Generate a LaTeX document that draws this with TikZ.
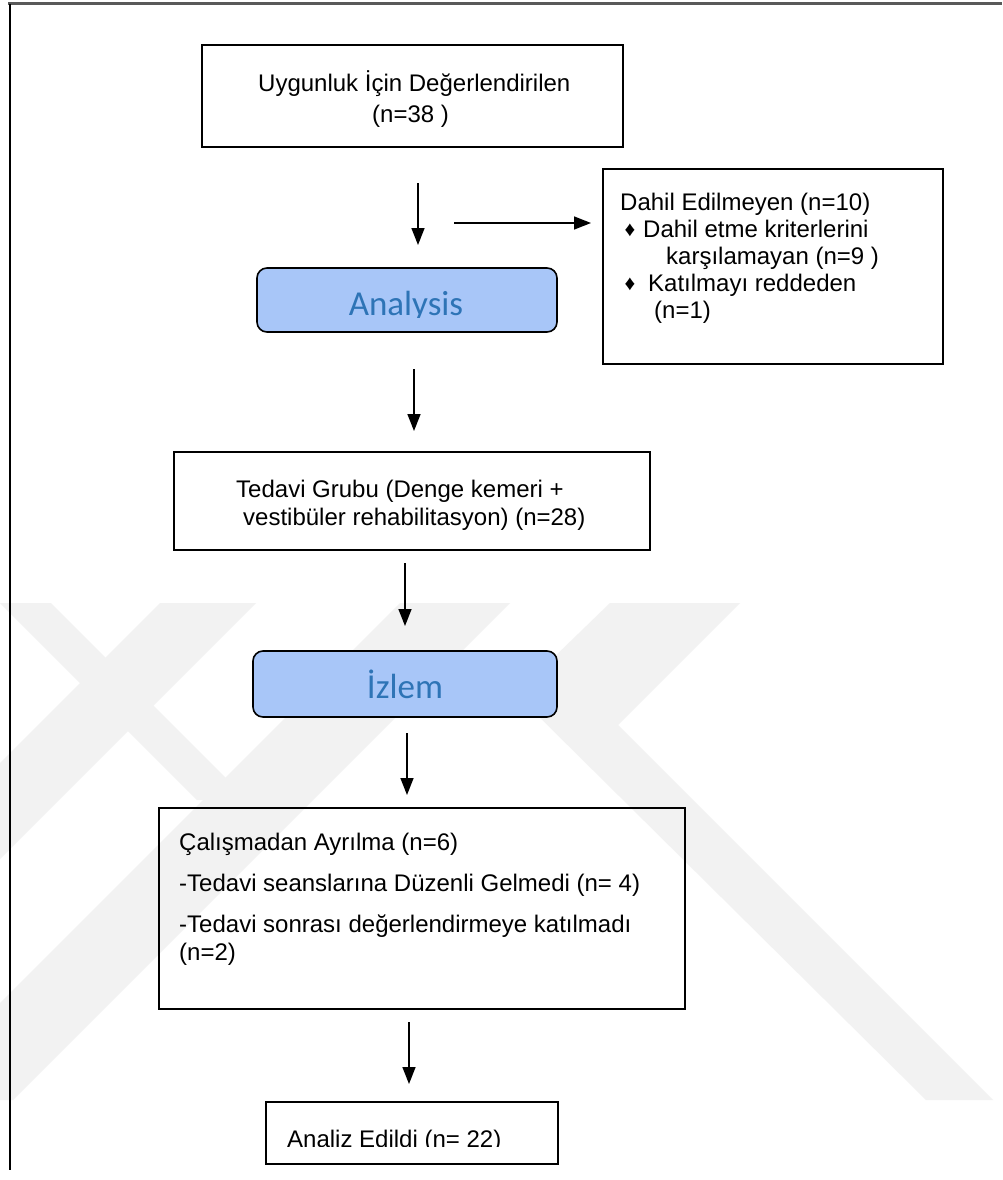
\documentclass[tikz,border=0pt]{standalone}
\usepackage{fontspec}
\setmainfont{Liberation Sans}
\newfontfamily\calib{Carlito}
\usetikzlibrary{arrows.meta}
\definecolor{boxblue}{RGB}{168,198,248}
\definecolor{txtblue}{RGB}{46,116,182}
\definecolor{wm}{RGB}{242,242,242}
\begin{document}
\begin{tikzpicture}[x=1pt,y=-1pt,
  box/.style={draw=black, line width=1.6pt, inner sep=0pt, outer sep=0pt, anchor=north west},
  rbox/.style={draw=black, line width=1.6pt, fill=boxblue, rounded corners=10pt, inner sep=0pt, outer sep=0pt, anchor=north west},
  txt/.style={anchor=base west, inner sep=0pt, font=\fontsize{24}{28}\selectfont},
  btxt/.style={anchor=base, inner sep=0pt, font=\calib\fontsize{35}{40}\selectfont, text=txtblue},
  bul/.style={anchor=base, inner sep=0pt, font=\fontsize{21}{24}\selectfont},
  arr/.style={line width=1.5pt, -{Triangle[length=17pt,width=13pt]}},
  band/.style={fill=wm, draw=none},
]
\useasboundingbox (0,0) rectangle (1002,1180);
\fill[white] (0,0) rectangle (1002,1180);
% faint watermark
\begin{scope}
\clip (0,600) rectangle (1002,1100);
\fill[band] (0,603) -- (51,603) -- (248,800) -- (197,800) -- cycle;
\fill[band] (160,603) -- (256,603) -- (0,859) -- (0,763) -- cycle;
\fill[band] (400,603) -- (510,603) -- (13,1100) -- (-97,1100) -- cycle;
\fill[band] (610,603) -- (740,603) -- (618,725) -- (993,1100) -- (926,1100) -- (516,694) -- cycle;
\end{scope}
% frame
\draw[line width=3pt, black!65] (8,4) -- (1002,4);
\draw[line width=1.6pt] (10,4) -- (10,1170);

% box 1
\node[box, minimum width=421pt, minimum height=102pt] (b1) at (202,45) {};
\node[txt] (b1t1) at (258,92) {Uygunluk İçin Değerlendirilen};
\node[txt] (b1t2) at (372,123) {(n=38 )};

% excluded box
\node[box, minimum width=340pt, minimum height=195pt] (ex) at (603,169) {};
\node[txt] (ext1) at (620,210) {Dahil Edilmeyen (n=10)};
\node[bul] (exb1) at (630,236) {♦};
\node[txt] (ext2) at (643,237) {Dahil etme kriterlerini};
\node[txt] (ext3) at (666,264) {karşılamayan (n=9 )};
\node[bul] (exb2) at (630,290) {♦};
\node[txt] (ext4) at (648,291) {Katılmayı reddeden};
\node[txt] (ext5) at (654,318) {(n=1)};

% Analysis
\node[rbox, minimum width=300pt, minimum height=64pt] (anl) at (257,268) {};
\begin{scope}
\clip (257,268) rectangle (557,317);
\node[btxt] (anlt) at (406,315) {Analysis};
\end{scope}

% treatment group
\node[box, minimum width=476pt, minimum height=98pt] (tg) at (174,452) {};
\node[txt] (tgt1) at (236,497) {Tedavi Grubu (Denge kemeri +};
\node[txt] (tgt2) at (243,525) {vestibüler rehabilitasyon) (n=28)};

% Izlem
\node[rbox, minimum width=304pt, minimum height=66pt] (izl) at (253,651) {};
\node[btxt] (izlt) at (405,698) {İzlem};

% drop-out box
\node[box, minimum width=526pt, minimum height=201pt] (dr) at (159,808) {};
\node[txt] (drt1) at (179,850) {Çalışmadan Ayrılma (n=6)};
\node[txt] (drt2) at (179,891) {-Tedavi seanslarına Düzenli Gelmedi (n= 4)};
\node[txt] (drt3) at (179,932) {-Tedavi sonrası değerlendirmeye katılmadı};
\node[txt] (drt4) at (179,960) {(n=2)};

% analysed
\node[box, minimum width=292pt, minimum height=62pt] (an) at (266,1102) {};
\begin{scope}
\clip (266,1102) rectangle (558,1146);
\node[txt] (ant) at (287,1147) {Analiz Edildi (n= 22)};
\end{scope}

% arrows
\coordinate (a1s) at (418,183); \coordinate (a1e) at (418,245);
\coordinate (h1s) at (454,223); \coordinate (h1e) at (591,223);
\coordinate (a2s) at (414,369); \coordinate (a2e) at (414,431);
\coordinate (a3s) at (405,563); \coordinate (a3e) at (405,626);
\coordinate (a4s) at (407,733); \coordinate (a4e) at (407,795);
\coordinate (a5s) at (409,1022); \coordinate (a5e) at (409,1084);
\draw[arr] (a1s) -- (a1e);
\draw[arr] (h1s) -- (h1e);
\draw[arr] (a2s) -- (a2e);
\draw[arr] (a3s) -- (a3e);
\draw[arr] (a4s) -- (a4e);
\draw[arr] (a5s) -- (a5e);
\end{tikzpicture}
\end{document}
